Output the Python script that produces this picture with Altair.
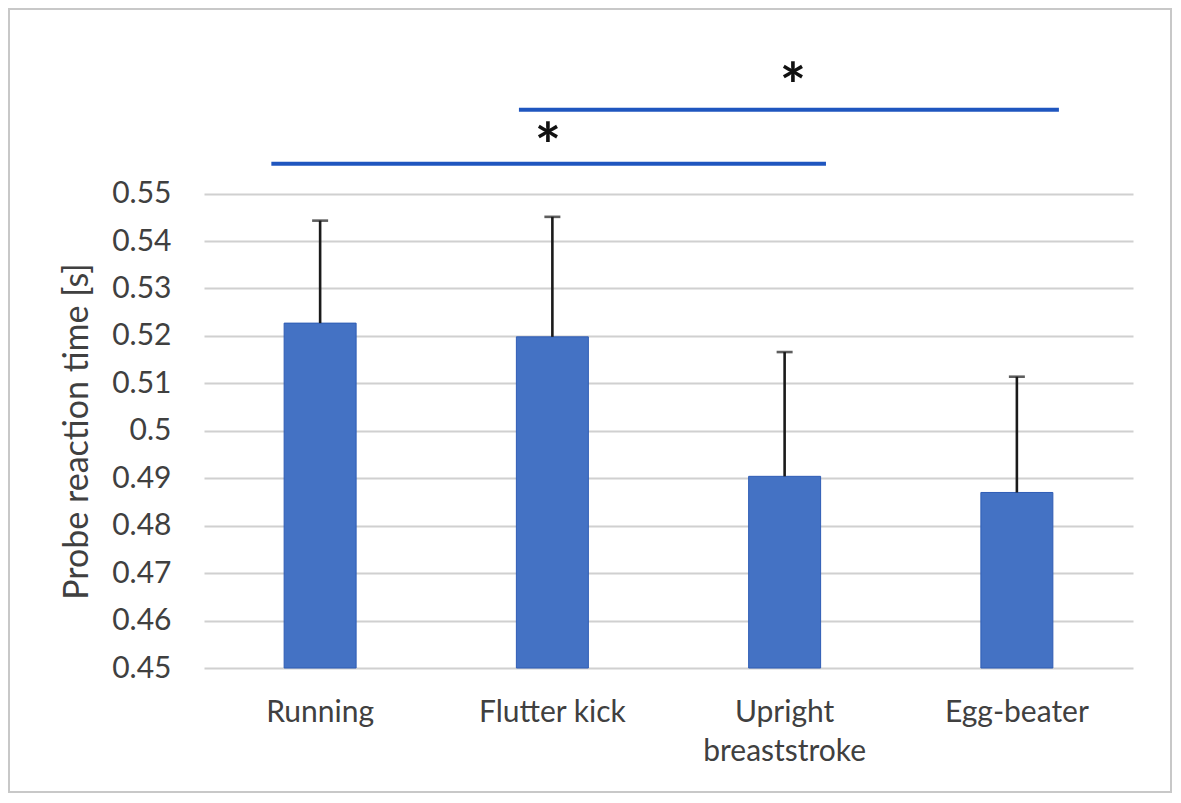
import altair as alt
import pandas as pd

# ---- data ----
categories = ["Running", "Flutter kick", "Upright\nbreaststroke", "Egg-beater"]
means = [0.5227, 0.5198, 0.4904, 0.4870]
err_tops = [0.5443, 0.5451, 0.5166, 0.5114]
y_ticks = [0.45, 0.46, 0.47, 0.48, 0.49, 0.50, 0.51, 0.52, 0.53, 0.54, 0.55]
y_base = 0.45

# significance brackets (x in category units: 0..4 across the plot)
sig_x_start = [0.29, 1.356]
sig_x_end = [2.678, 3.681]
sig_y = [0.5563, 0.5677]
star_x = [1.481, 2.536]
star_y = [0.5553, 0.5680]
star_text = ["*", "*"]

FONT = "Lato"
TEXT_COLOR = "#404040"
W, H = 929, 593
Y_DOMAIN = [0.45, 0.575]

bars_df = pd.DataFrame({"cat": categories, "mean": means, "top": err_tops,
                        "base": [y_base] * len(categories)})
sig_df = pd.DataFrame({"x1": sig_x_start, "x2": sig_x_end, "y": sig_y})
star_df = pd.DataFrame({"x": star_x, "y": star_y, "t": star_text})
frame_df = pd.DataFrame({"k": [0]})

yscale = alt.Scale(domain=Y_DOMAIN, nice=False, zero=False)
xband = alt.Scale(domain=categories, paddingInner=0.69, paddingOuter=0.345)

x_enc = alt.X("cat:N", scale=xband, sort=categories,
              axis=alt.Axis(title=None, labelAngle=0, domain=False, ticks=False,
                            labelPadding=29, labelFontSize=30, labelFont=FONT,
                            labelColor=TEXT_COLOR, labelLineHeight=39,
                            labelExpr="split(datum.label, '\\n')"))
y_enc = alt.Y("mean:Q", scale=yscale,
              axis=alt.Axis(title="Probe reaction time [s]", values=y_ticks,
                            format=".2~f", domain=False, ticks=False,
                            labelPadding=33, labelFontSize=30, labelFont=FONT,
                            labelColor=TEXT_COLOR, grid=True,
                            gridColor="#d0d0d0", gridWidth=2,
                            titleFont=FONT, titleFontSize=34,
                            titleFontWeight="normal", titleColor=TEXT_COLOR,
                            titleX=-127, titleY=356, titleAngle=270,
                            titleAlign="center", titleBaseline="middle"))

bars = alt.Chart(bars_df).mark_bar(color="#4472C4", stroke="#2F5DB5",
                                   strokeWidth=1).encode(
    x=x_enc, y=y_enc, y2="base:Q")

err = alt.Chart(bars_df).mark_rule(color="#1a1a1a", strokeWidth=2.6).encode(
    x=alt.X("cat:N", scale=xband, sort=categories),
    y=alt.Y("mean:Q", scale=yscale), y2="top:Q")

caps = alt.Chart(bars_df).mark_tick(color="#1a1a1a", size=16, thickness=2.6).encode(
    x=alt.X("cat:N", scale=xband, sort=categories),
    y=alt.Y("top:Q", scale=yscale))

main = alt.layer(bars, err, caps)

xq = alt.Scale(domain=[0, 4], nice=False, zero=False)
lines = alt.Chart(sig_df).mark_rule(color="#1F56BF", strokeWidth=4).encode(
    x=alt.X("x1:Q", scale=xq, axis=None), x2="x2:Q",
    y=alt.Y("y:Q", scale=yscale))
stars = alt.Chart(star_df).mark_text(font=FONT, fontSize=62, fontWeight="bold",
                                     color="#111111", baseline="alphabetic",
                                     align="center").encode(
    x=alt.X("x:Q", scale=xq, axis=None),
    y=alt.Y("y:Q", scale=yscale), text="t:N")
annot = alt.layer(lines, stars)

frame = alt.Chart(frame_df).mark_rect(fill="transparent", stroke="#c8c8c8",
                                      strokeWidth=2, clip=False).encode(
    x=alt.value(-195), x2=alt.value(967), y=alt.value(-66), y2=alt.value(717))

chart = alt.layer(main, annot, frame).resolve_scale(x="independent").properties(
    width=W, height=H,
    padding={"left": 196, "top": 67, "right": 40, "bottom": 126},
    autosize=alt.AutoSizeParams(type="none"),
    background="white",
).configure_view(strokeWidth=0)

chart.save("out.html", embed_options={"renderer": "svg", "actions": False})
